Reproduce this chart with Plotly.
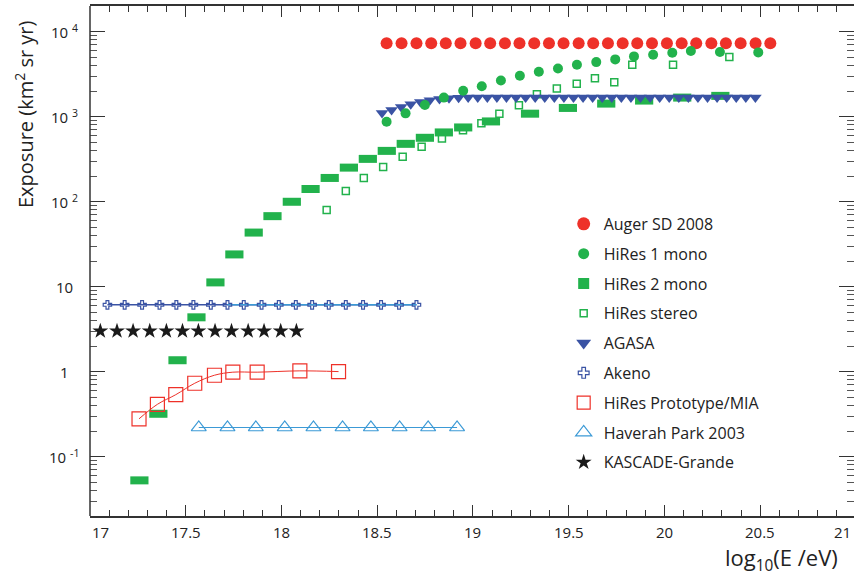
import math
import plotly.graph_objects as go

# ---------------- data ----------------
AUGER_X = [18.549, 18.627, 18.705, 18.782, 18.858, 18.935, 19.014, 19.090, 19.167,
           19.243, 19.320, 19.397, 19.473, 19.552, 19.628, 19.705, 19.782, 19.858,
           19.935, 20.013, 20.090, 20.166, 20.245, 20.321, 20.398, 20.476, 20.553]
AUGER_Y = [7300] * 27

HIRES1_X = [18.549, 18.648, 18.749, 18.848, 18.949, 19.046, 19.146, 19.245, 19.344,
            19.444, 19.543, 19.644, 19.743, 19.841, 19.941, 20.041, 20.138, 20.290, 20.490]
HIRES1_Y = [871, 1091, 1371, 1672, 2009, 2275, 2655, 3019, 3367,
            3683, 4074, 4374, 4710, 5107, 5348, 5648, 5900, 5741, 5690]

HIRES2_X = [17.258, 17.357, 17.457, 17.556, 17.655, 17.754, 17.855, 17.953, 18.054,
            18.152, 18.252, 18.352, 18.451, 18.550, 18.649, 18.749, 18.848, 18.949,
            19.094, 19.298, 19.496, 19.696, 19.894, 20.093, 20.292]
HIRES2_Y = [0.0525, 0.319, 1.36, 4.35, 11.2, 23.9, 43.2, 67.4, 99.5,
            140.6, 189.7, 251, 318, 395, 478, 563, 651, 745,
            877, 1082, 1264, 1422, 1543, 1673, 1753]

STEREO_X = [18.236, 18.336, 18.430, 18.531, 18.633, 18.732, 18.838, 18.948, 19.044,
            19.138, 19.240, 19.334, 19.438, 19.542, 19.637, 19.738, 19.832, 20.045, 20.339]
STEREO_Y = [79.4, 133, 190, 256, 336, 441, 552, 691, 835,
            1082, 1356, 1830, 2137, 2428, 2830, 2537, 4074, 4074, 5012]

AGASA_X = [18.525, 18.575, 18.625, 18.675, 18.725, 18.775, 18.825, 18.875, 18.925, 18.975,
           19.025, 19.075, 19.125, 19.175, 19.225, 19.275, 19.325, 19.375, 19.425, 19.475,
           19.525, 19.575, 19.625, 19.675, 19.725, 19.775, 19.825, 19.875, 19.925, 19.975,
           20.025, 20.075, 20.125, 20.175, 20.225, 20.275, 20.325, 20.375, 20.425, 20.475]
AGASA_Y = [1104, 1197, 1300, 1394, 1487, 1552, 1614, 1641, 1671, 1680,
           1680, 1680, 1680, 1680, 1680, 1680, 1680, 1680, 1680, 1680,
           1680, 1680, 1680, 1680, 1680, 1680, 1680, 1680, 1680, 1680,
           1680, 1680, 1680, 1680, 1680, 1680, 1680, 1680, 1680, 1680]

AKENO_X = [17.091, 17.181, 17.272, 17.363, 17.451, 17.540, 17.631, 17.718, 17.803, 17.896,
           17.986, 18.075, 18.160, 18.247, 18.336, 18.426, 18.520, 18.614, 18.705]
AKENO_Y = [6.1] * 19

MIA_X = [17.256, 17.352, 17.448, 17.547, 17.650, 17.746, 17.873, 18.096, 18.298]
MIA_Y = [0.278, 0.412, 0.535, 0.729, 0.906, 0.984, 0.984, 1.02, 1.0]

HAVERAH_X = [17.568, 17.718, 17.866, 18.017, 18.167, 18.319, 18.467, 18.617, 18.766, 18.917]
HAVERAH_Y = [0.22] * 10

KASCADE_X = [17.054, 17.141, 17.225, 17.312, 17.399, 17.483, 17.566, 17.653, 17.739,
             17.826, 17.909, 17.996, 18.078]
KASCADE_Y = [3.0] * 13

X_TICKS = [17, 17.5, 18, 18.5, 19, 19.5, 20, 20.5, 21]
X_TICK_LABELS = ["17", "17.5", "18", "18.5", "19", "19.5", "20", "20.5", "21"]
Y_TICKS = [0.1, 1, 10, 100, 1000, 10000]
Y_TICK_LABELS = ["10 <sup>-1</sup>", "1", "10", "10 <sup>2</sup>", "10 <sup>3</sup>", "10 <sup>4</sup>"]

LEGEND_NAMES = ["Auger SD 2008", "HiRes 1 mono", "HiRes 2 mono", "HiRes stereo", "AGASA",
                "Akeno", "HiRes Prototype/MIA", "Haverah Park 2003", "KASCADE-Grande"]

X_RANGE = [17, 20.99]

# ---------------- styles ----------------
RED = "#ee3129"
GREEN = "#22b24c"
DBLUE = "#3a53a4"
LBLUE = "#3c9ad6"
BLACK = "#1a1a1a"
FONT = "Open Sans"

fig = go.Figure()

# lines first
fig.add_trace(go.Scatter(x=AKENO_X, y=AKENO_Y, mode="lines",
                         line=dict(color=DBLUE, width=1.5), showlegend=False, hoverinfo="skip"))
fig.add_trace(go.Scatter(x=AKENO_X[7:], y=AKENO_Y[7:], mode="lines",
                         line=dict(color=LBLUE, width=1.5), showlegend=False, hoverinfo="skip"))
fig.add_trace(go.Scatter(x=HAVERAH_X, y=HAVERAH_Y, mode="lines",
                         line=dict(color=LBLUE, width=1.2), showlegend=False, hoverinfo="skip"))
fig.add_trace(go.Scatter(x=MIA_X, y=MIA_Y, mode="lines", line_shape="spline",
                         line=dict(color=RED, width=1), showlegend=False, hoverinfo="skip"))

# markers
fig.add_trace(go.Scatter(x=AUGER_X, y=AUGER_Y, mode="markers", showlegend=False,
                         marker=dict(symbol="circle", size=12, color=RED)))
fig.add_trace(go.Scatter(x=STEREO_X, y=STEREO_Y, mode="markers", showlegend=False,
                         marker=dict(symbol="square-open", size=7, color=GREEN, line=dict(width=1.5))))
fig.add_trace(go.Scatter(x=HIRES2_X, y=HIRES2_Y, mode="markers", showlegend=False,
                         marker=dict(symbol="line-ew", size=13, color=GREEN,
                                     line=dict(width=8, color=GREEN))))
fig.add_trace(go.Scatter(x=AGASA_X, y=AGASA_Y, mode="markers", showlegend=False,
                         marker=dict(symbol="triangle-down", size=11, color=DBLUE)))
fig.add_trace(go.Scatter(x=HIRES1_X, y=HIRES1_Y, mode="markers", showlegend=False,
                         marker=dict(symbol="circle", size=10, color=GREEN)))
fig.add_trace(go.Scatter(x=AKENO_X, y=AKENO_Y, mode="markers", showlegend=False,
                         marker=dict(symbol="cross-open", size=7, color=DBLUE, line=dict(width=1.2))))
fig.add_trace(go.Scatter(x=MIA_X, y=MIA_Y, mode="markers", showlegend=False,
                         marker=dict(symbol="square-open", size=14, color=RED, line=dict(width=1.2))))
fig.add_trace(go.Scatter(x=HAVERAH_X, y=HAVERAH_Y, mode="markers", showlegend=False,
                         marker=dict(symbol="triangle-up-open", size=13, color=LBLUE, line=dict(width=1.2))))
fig.add_trace(go.Scatter(x=KASCADE_X, y=KASCADE_Y, mode="markers", showlegend=False,
                         marker=dict(symbol="star", size=12, color=BLACK)))

# legend-only entries
legend_markers = [
    dict(symbol="circle", size=13, color=RED),
    dict(symbol="circle", size=11, color=GREEN),
    dict(symbol="square", size=11, color=GREEN),
    dict(symbol="square-open", size=7, color=GREEN, line=dict(width=1.5)),
    dict(symbol="triangle-down", size=13, color=DBLUE),
    dict(symbol="cross-open", size=9, color=DBLUE, line=dict(width=1.2)),
    dict(symbol="square-open", size=13, color=RED, line=dict(width=1.2)),
    dict(symbol="triangle-up-open", size=14, color=LBLUE, line=dict(width=1.2)),
    dict(symbol="star", size=12, color=BLACK),
]
for i, (nm, mk) in enumerate(zip(LEGEND_NAMES, legend_markers)):
    fig.add_trace(go.Scatter(x=[None], y=[None], mode="markers", name=nm, marker=mk,
                             legendgroup=f"g{i}", showlegend=True))

# tick label annotations (paper coords so the edge label is kept)
for xv, lab in zip(X_TICKS, X_TICK_LABELS):
    anchor = "center"
    if xv == X_TICKS[0]:
        anchor = "left"
    elif xv == X_TICKS[-1]:
        anchor = "right"
    xp = (xv - X_RANGE[0]) / (X_RANGE[1] - X_RANGE[0])
    fig.add_annotation(x=min(xp, 0.999), y=0, xref="paper", yref="paper", text=lab, showarrow=False,
                       xanchor=anchor, yanchor="top", yshift=-4,
                       font=dict(family=FONT, size=15, color="#222"))
for yv, lab in zip(Y_TICKS, Y_TICK_LABELS):
    fig.add_annotation(x=-0.034, y=math.log10(yv), xref="paper", yref="y", text=lab,
                       showarrow=False, xanchor="center", yanchor="middle",
                       font=dict(family=FONT, size=15, color="#222"))

fig.add_annotation(x=(840 - 90) / 764, y=-0.085, xref="paper", yref="paper",
                   text="log<sub>10</sub>(E /eV)", showarrow=False, xanchor="right", yanchor="middle",
                   font=dict(family=FONT, size=22, color="#222"))
fig.add_annotation(x=(24 - 90) / 764, y=1 - (115 - 6) / 510, xref="paper", yref="paper",
                   text="Exposure (km<sup>2</sup> sr yr)", showarrow=False, textangle=-90,
                   xanchor="center", yanchor="middle",
                   font=dict(family=FONT, size=20, color="#222"))

minor_y = [m * 10 ** d for d in range(-2, 5) for m in range(2, 10)]

AX = "#333333"
# left frame line (the right frame edge lies just outside the picture in the reference)
fig.add_shape(type="line", xref="x domain", yref="y domain", x0=0, x1=0, y0=0, y1=1,
              line=dict(color=AX, width=1.5), layer="above")

fig.update_xaxes(range=X_RANGE, showline=True, linecolor=AX, linewidth=1.5, mirror="ticks",
                 ticks="inside", tickvals=X_TICKS, ticklen=11, tickwidth=1.2, tickcolor=AX,
                 showticklabels=False, showgrid=False, zeroline=False,
                 minor=dict(dtick=0.1, ticks="inside", ticklen=6, tickcolor=AX, tickwidth=1,
                            showgrid=False))
fig.update_yaxes(type="log", range=[math.log10(0.02), math.log10(20000)], showline=False,
                 mirror="ticks", ticks="inside", tickvals=Y_TICKS,
                 ticklen=15, tickwidth=1.2, tickcolor=AX, showticklabels=False, showgrid=False,
                 zeroline=False,
                 minor=dict(tickvals=minor_y, ticks="inside", ticklen=7, tickcolor="#555",
                            tickwidth=1, showgrid=False))

fig.update_layout(
    width=854, height=583,
    margin=dict(l=90, r=0, t=6, b=67),
    paper_bgcolor="white", plot_bgcolor="white",
    legend=dict(x=0.62, y=0.606, xanchor="left", yanchor="top", bgcolor="rgba(0,0,0,0)",
                font=dict(family=FONT, size=16, color="#222"), tracegroupgap=6,
                traceorder="grouped"),
    font=dict(family=FONT),
)

fig.write_html("out.html", config={"displayModeBar": False},
               post_script="document.body.style.margin='0';document.body.style.overflow='hidden';")
